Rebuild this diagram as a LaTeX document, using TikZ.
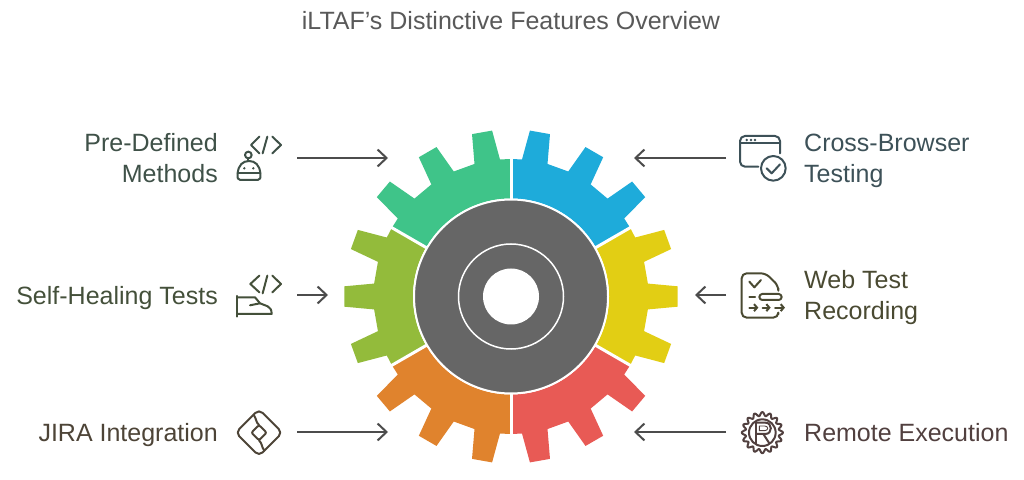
\documentclass[tikz,border=0pt]{standalone}
\usepackage{fontspec}
\setmainfont{Liberation Sans}
\usetikzlibrary{arrows.meta}

\definecolor{gearGreen}{HTML}{3FC489}
\definecolor{gearBlue}{HTML}{1EABDA}
\definecolor{gearYellow}{HTML}{E2CE14}
\definecolor{gearRed}{HTML}{E85A55}
\definecolor{gearOrange}{HTML}{E0832D}
\definecolor{gearLime}{HTML}{93BB3B}
\definecolor{hubGrey}{HTML}{666666}
\definecolor{inkGreen}{HTML}{3F5148}
\definecolor{inkBlue}{HTML}{3D5158}
\definecolor{inkOlive}{HTML}{4A4A32}
\definecolor{inkRed}{HTML}{51403F}
\definecolor{inkBrown}{HTML}{4D4437}
\definecolor{inkLime}{HTML}{44503A}

\tikzset{
  feature/.style={font=\fontsize{25}{31}\selectfont, inner sep=0pt},
  featL/.style={feature, anchor=east, align=right},
  featR/.style={feature, anchor=west, align=left},
  pointer/.style={draw=black!70, line width=2pt, -{Straight Barb[length=9pt,width=17pt,line width=2pt]}},
  icon/.style={line width=2pt, line cap=round, line join=round},
}

% one sixth of the gear: start angle, colour
\newcommand{\gearpart}[2]{
  \fill[#2] (#1:98) -- (#1:137.5)
    \foreach \t in {10,30,50} {
      -- ({#1+\t-5.4}:137.5) -- ({#1+\t-3.5}:167) -- ({#1+\t+3.5}:167) -- ({#1+\t+5.4}:137.5)
    }
    -- ({#1+60}:137.5) -- ({#1+60}:98) arc[start angle=#1+60, end angle=#1, radius=98] -- cycle;
}

\begin{document}
\begin{tikzpicture}[x=1pt,y=1pt]
  \useasboundingbox (0,0) rectangle (1024,479);

  \node[font=\fontsize{25}{29}\selectfont, text=black!65] (title) at (511,458) {iLTAF's Distinctive Features Overview};

  % the gear
  \coordinate (gearMid) at (511,182.5);
  \begin{scope}[shift={(gearMid)}]
    \gearpart{90}{gearGreen}
    \gearpart{30}{gearBlue}
    \gearpart{-30}{gearYellow}
    \gearpart{-90}{gearRed}
    \gearpart{-150}{gearOrange}
    \gearpart{150}{gearLime}
    \foreach \a in {30,90,...,330}
      \draw[white, line width=3pt] (\a:95) -- (\a:142);
  \end{scope}
  \node[circle, fill=hubGrey, draw=white, line width=2pt, minimum size=194pt, inner sep=0pt] (hub) at (gearMid) {};
  \node[circle, draw=white, line width=1.5pt, minimum size=105pt, inner sep=0pt] (ring) at (gearMid) {};
  \node[circle, fill=white, minimum size=56pt, inner sep=0pt] (hole) at (gearMid) {};

  % labels
  \node[featL, text=inkGreen] (preDefined) at (218,321) {Pre-Defined\\Methods};
  \node[featL, text=inkLime] (selfHealing) at (218,181) {Self-Healing Tests};
  \node[featL, text=inkBrown] (jira) at (218,44) {JIRA Integration};
  \node[featR, text=inkBlue] (crossBrowser) at (804,318) {Cross-Browser\\Testing};
  \node[featR, text=inkOlive] (webTest) at (804,181) {Web Test\\Recording};
  \node[featR, text=inkRed] (remoteExec) at (804,46) {Remote Execution};

  % arrows
  \coordinate (preFrom) at (297,321);   \coordinate (preTo) at (388,321);
  \coordinate (selfFrom) at (297,184);  \coordinate (selfTo) at (328,184);
  \coordinate (jiraFrom) at (297,47);   \coordinate (jiraTo) at (388,47);
  \coordinate (crossFrom) at (726,321); \coordinate (crossTo) at (634,321);
  \coordinate (webFrom) at (726,184);   \coordinate (webTo) at (695,184);
  \coordinate (remoteFrom) at (726,47); \coordinate (remoteTo) at (634,47);
  \draw[pointer] (preFrom) -- (preTo);
  \draw[pointer] (selfFrom) -- (selfTo);
  \draw[pointer] (jiraFrom) -- (jiraTo);
  \draw[pointer] (crossFrom) -- (crossTo);
  \draw[pointer] (webFrom) -- (webTo);
  \draw[pointer] (remoteFrom) -- (remoteTo);

  % robot icon
  \begin{scope}[shift={(225,354)}, xscale=.3333, yscale=-.3333, icon, draw=inkGreen]
    \draw (103,35) -- (78,60) -- (103,85);
    \draw (113,85) -- (127,35);
    \draw (142,35) -- (168,60) -- (142,85);
    \draw (70,90) circle (10);
    \draw (70,100) -- (70,108);
    \draw (46,165) -- (98,165) .. controls (106,165) and (107,160) .. (106,145)
      .. controls (104,120) and (90,108) .. (72,108)
      .. controls (54,108) and (40,120) .. (38,145)
      .. controls (37,160) and (38,165) .. (46,165) -- cycle;
    \draw (38,145) -- (106,145);
    \fill[inkGreen] (58,130) circle (4) (85,130) circle (4);
  \end{scope}

  % hand icon
  \begin{scope}[shift={(225,354)}, xscale=.3333, yscale=-.3333, icon, draw=inkLime]
    \draw (103,452) -- (76,477) -- (103,502);
    \draw (113,505) -- (127,452);
    \draw (142,452) -- (168,477) -- (142,502);
    \draw (37,513) -- (37,575);
    \draw (37,517) -- (90,517) -- (105,535) -- (128,544) .. controls (136,548) and (140,555) .. (140,567) -- (37,567);
    \draw (75,541) -- (105,535);
  \end{scope}

  % browser icon
  \begin{scope}[shift={(725,354)}, xscale=.3333, yscale=-.3333, icon, draw=inkBlue]
    \draw[rounded corners=5pt] (100,125) -- (45,125) -- (45,33) -- (165,33) -- (165,85);
    \draw (45,55) -- (165,55);
    \fill[inkBlue] (65,45) circle (4) (78,45) circle (4) (90,45) circle (4);
    \draw (145,130) circle (37);
    \draw (125,130) -- (140,145) -- (165,118);
  \end{scope}

  % recording icon
  \begin{scope}[shift={(725,354)}, xscale=.3333, yscale=-.3333, icon, draw=inkOlive]
    \draw[rounded corners=5pt] (160,490) -- (160,482) -- (122,445) -- (50,445) -- (50,578) -- (160,578) -- (160,568);
    \draw (73,470) -- (88,487) -- (108,465);
    \draw (73,516) -- (90,516);
    \draw[rounded corners=3pt] (103,507) rectangle (170,525);
    \draw[-{Straight Barb[length=3pt,width=7pt]}] (73,548) -- (100,548);
    \draw[-{Straight Barb[length=3pt,width=7pt]}] (113,548) -- (137,548);
    \draw[-{Straight Barb[length=3pt,width=7pt]}] (150,548) -- (180,548);
  \end{scope}

  % jira icon
  \begin{scope}[shift={(225,79)}, xscale=.3333, yscale=-.3333, icon, draw=inkBrown]
    \draw[rounded corners=5pt] (102,28) -- (172,98) -- (102,168) -- (32,98) -- cycle;
    \draw[rounded corners=2pt] (102,75) -- (125,98) -- (102,121) -- (79,98) -- cycle;
    \draw (86,44) .. controls (95,58) and (92,66) .. (102,75);
    \draw (102,121) .. controls (112,130) and (109,140) .. (118,152);
  \end{scope}

  % remote icon
  \begin{scope}[shift={(730,79)}, xscale=.3333, yscale=-.3333, icon, draw=inkRed]
    \draw plot[samples=121, domain=0:360, variable=\a] ({97+(56+6*cos(16*\a))*cos(\a)},{98+(56+6*cos(16*\a))*sin(\a)}) -- cycle;
    \draw (97,98) circle (40);
    \draw (78,68) -- (78,130);
    \draw (78,68) -- (106,68) .. controls (128,68) and (128,102) .. (106,102) -- (78,102);
    \draw (100,102) -- (118,130);
    \draw[line width=.9pt] (88,78) -- (104,78) .. controls (116,78) and (116,92) .. (104,92) -- (88,92) -- cycle;
  \end{scope}
\end{tikzpicture}
\end{document}
